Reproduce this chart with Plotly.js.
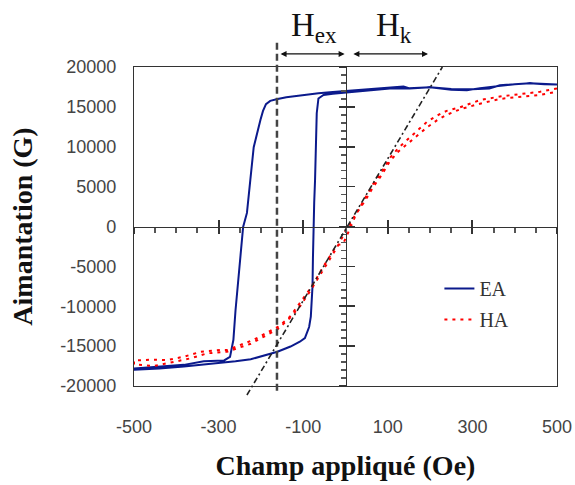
<!DOCTYPE html>
<html>
<head>
<meta charset="utf-8">
<script src="https://cdn.plot.ly/plotly-3.0.1.min.js"></script>
<style>html,body{margin:0;padding:0;background:#fff;}#chart{width:575px;height:485px;}</style>
</head>
<body>
<div id="chart"></div>
<script>
// ---- data ----
// Easy axis (EA) loop, descending field branch
const eaDescX = [500, 470, 436, 400, 365, 318, 287, 250, 200, 152, 137, 105, 60, 34, 0, -30, -64, -108, -140, -163, -178, -188, -195, -201, -207, -217, -225, -233, -242, -248, -254, -260, -265, -273, -287, -300, -335, -382, -440, -500];
const eaDescY = [17800, 17900, 17950, 17850, 17650, 17350, 17100, 17150, 17450, 17300, 17550, 17400, 17200, 17100, 16900, 16850, 16700, 16450, 16200, 15950, 15750, 15350, 14500, 13400, 12100, 9950, 5850, 1700, -50, -3400, -6700, -10500, -14200, -16350, -16800, -16850, -16900, -17350, -17600, -17800];
// Easy axis (EA) loop, ascending field branch
const eaAscX = [-500, -440, -382, -303, -260, -224, -185, -161, -130, -108, -96, -86, -82, -79, -78, -77, -76, -74, -72, -70, -68, -64, -52, -30, 0, 34, 60, 105, 150, 200, 250, 300, 340, 365, 400, 436, 470, 500];
const eaAscY = [-17950, -17800, -17550, -17150, -16900, -16650, -16100, -15700, -15050, -14450, -14000, -12600, -11300, -9200, -7500, -4000, 0, 3000, 5800, 10000, 14200, 16050, 16500, 16650, 16800, 17000, 17150, 17300, 17350, 17450, 17250, 17200, 17300, 17700, 17850, 17950, 17850, 17800];
// Hard axis (HA) curve, two branches
const haDownX = [500, 460, 413, 365, 318, 271, 239, 216, 192, 168, 145, 125, 105, 86, 66, 46, 26, 11, -5, -21, -52, -80, -108, -131, -159, -218, -279, -297, -342, -380, -421, -460, -500];
const haDownY = [17300, 16900, 16600, 16300, 15850, 14950, 14500, 13900, 13100, 11900, 10850, 9850, 8600, 6900, 5400, 3550, 1650, -200, -2100, -2400, -5000, -7550, -9630, -11300, -12560, -14230, -15480, -15500, -15700, -16300, -16740, -16700, -16800];
const haUpX = [-500, -453, -405, -366, -327, -280, -224, -161, -130, -106, -80, -52, -21, 0, 20, 46, 66, 86, 105, 125, 145, 168, 192, 216, 239, 271, 318, 365, 413, 460, 500];
const haUpY = [-17300, -17500, -16950, -16530, -15900, -15700, -14700, -12900, -11400, -9900, -7800, -5300, -2700, -600, 1200, 3200, 5000, 6500, 8200, 9400, 10300, 11300, 12400, 13300, 14000, 14700, 15400, 16000, 16300, 16500, 16900];
// Linear fit of the hard-axis slope (dash-dot line)
const fitX = [-233, 229];
const fitY = [-21130, 20000];
// Exchange field (vertical dashed line) and arrow extents (Oe)
const hEx = -162;
const hexArrow = [-157, -2];
const hkArrow = [15, 195];
// Axis ranges and ticks
const xRange = [-500, 500];
const yRange = [-20000, 20000];
const xTickVals = [-500, -300, -100, 100, 300, 500];
const xTickText = ['-500', '-300', '-100', '100', '300', '500'];
const yTickVals = [-20000, -15000, -10000, -5000, 0, 5000, 10000, 15000, 20000];
const yTickText = ['-20000', '-15000', '-10000', '-5000', '0', '5000', '10000', '15000', '20000'];

// ---- drawing ----
const eaX = eaDescX.concat(eaAscX);
const eaY = eaDescY.concat(eaAscY);
const haX = haDownX.concat(haUpX);
const haY = haDownY.concat(haUpY);
const yDom = v => (v - yRange[0]) / (yRange[1] - yRange[0]);

const blue = '#0b1a8c';
const red = '#ff0000';
const axisCol = '#333333';
const tickFont = {family: 'Liberation Sans, Arial, sans-serif', size: 18, color: '#444444'};
const titleFont = {family: 'Liberation Serif, Times New Roman, serif', size: 28, color: '#111111', weight: 'bold'};

// invisible helper traces (mode 'none') that put the zero-crossing axes in use
const helper = (xa, ya) => ({x: xRange, y: yRange, xaxis: xa, yaxis: ya, mode: 'none', type: 'scatter',
  showlegend: false, hoverinfo: 'skip'});

const traces = [
  {x: eaX, y: eaY, type: 'scatter', mode: 'lines', name: 'EA',
   line: {color: blue, width: 2}, legendgroup: 'a', hoverinfo: 'skip'},
  {x: haX, y: haY, type: 'scatter', mode: 'lines', name: 'HA',
   line: {color: red, width: 2, dash: '3px,5px'}, legendgroup: 'b', hoverinfo: 'skip'},
  helper('x2', 'y'), helper('x3', 'y'), helper('x', 'y2'), helper('x', 'y3')
];

const zeroAxis = {showgrid: false, zeroline: false, showticklabels: false, anchor: 'free', position: 0.5,
  showline: true, linecolor: axisCol, linewidth: 1.2, tickcolor: axisCol, tickwidth: 1.6};
const minorTicks = (len, d, w) => ({ticks: 'outside', ticklen: len, dtick: d, tickcolor: '#555555', tickwidth: w, showgrid: false});

const layout = {
  width: 575, height: 485,
  margin: {l: 134, r: 18, t: 67, b: 99},
  paper_bgcolor: '#ffffff', plot_bgcolor: '#ffffff',
  showlegend: true,
  legend: {x: 0.722, y: 0.367, xanchor: 'left', yanchor: 'top', bgcolor: 'rgba(0,0,0,0)',
    font: {family: 'Liberation Serif, Times New Roman, serif', size: 20, color: '#333333'},
    tracegroupgap: 2, itemwidth: 30},
  xaxis: {range: xRange, showgrid: false, zeroline: false, showline: true, mirror: true,
    linecolor: axisCol, linewidth: 1.2, ticks: '', tickvals: xTickVals, ticktext: xTickText,
    tickfont: tickFont, ticklabelstandoff: 24,
    title: {text: 'Champ appliqué (Oe)', font: titleFont, standoff: 19}},
  yaxis: {range: yRange, showgrid: false, zeroline: false, showline: true, mirror: true,
    linecolor: axisCol, linewidth: 1.2, ticks: '', tickvals: yTickVals, ticktext: yTickText,
    tickfont: tickFont, ticklabelstandoff: 13,
    title: {text: 'Aimantation (G)', font: titleFont, standoff: 19}},
  // horizontal axis through y = 0 (major ticks cross the line, minor ticks below)
  xaxis2: Object.assign({}, zeroAxis, {overlaying: 'x', range: xRange, side: 'bottom',
    ticks: 'outside', ticklen: 6, tickwidth: 2, tickmode: 'linear', tick0: -500, dtick: 200,
    minor: Object.assign(minorTicks(5, 50, 2), {tick0: -500})}),
  xaxis3: Object.assign({}, zeroAxis, {overlaying: 'x', range: xRange, side: 'bottom',
    ticks: 'inside', ticklen: 7, tickwidth: 2, tickmode: 'linear', tick0: -500, dtick: 200}),
  // vertical axis through x = 0 (major ticks cross the line, minor ticks to the left)
  yaxis2: Object.assign({}, zeroAxis, {overlaying: 'y', range: yRange, side: 'left',
    ticks: 'outside', ticklen: 7, tickmode: 'linear', tick0: 0, dtick: 5000,
    minor: Object.assign(minorTicks(5, 1000, 1.6), {tick0: 0})}),
  yaxis3: Object.assign({}, zeroAxis, {overlaying: 'y', range: yRange, side: 'left',
    ticks: 'inside', ticklen: 8, tickmode: 'linear', tick0: 0, dtick: 5000}),
  shapes: [
    {type: 'line', xref: 'x', yref: 'paper', x0: hEx, x1: hEx, y0: -0.015, y1: 1.085,
     line: {color: '#444444', width: 2.5, dash: '7px,4px'}, layer: 'above'},
    {type: 'line', xref: 'x', yref: 'y domain', x0: fitX[0], x1: fitX[1], y0: yDom(fitY[0]), y1: yDom(fitY[1]),
     line: {color: '#222222', width: 1.6, dash: '6px,3px,2px,3px'}, layer: 'above'}
  ],
  annotations: [
    {xref: 'x', yref: 'paper', x: hexArrow[1], y: 1.041, axref: 'x', ayref: 'pixel', ax: hexArrow[0], ay: 0,
     showarrow: true, arrowhead: 2, startarrowhead: 2, arrowside: 'end+start', arrowsize: 1, arrowwidth: 1.2,
     arrowcolor: '#111111', text: ''},
    {xref: 'x', yref: 'paper', x: hkArrow[1], y: 1.041, axref: 'x', ayref: 'pixel', ax: hkArrow[0], ay: 0,
     showarrow: true, arrowhead: 2, startarrowhead: 2, arrowside: 'end+start', arrowsize: 1, arrowwidth: 1.2,
     arrowcolor: '#111111', text: ''},
    {xref: 'x', yref: 'paper', x: (hexArrow[0] + hexArrow[1]) / 2 + 6, y: 1.125, yanchor: 'middle', xanchor: 'center',
     showarrow: false, text: 'H<sub>ex</sub>',
     font: {family: 'Liberation Serif, Times New Roman, serif', size: 33, color: '#111111'}},
    {xref: 'x', yref: 'paper', x: (hkArrow[0] + hkArrow[1]) / 2 + 10, y: 1.125, yanchor: 'middle', xanchor: 'center',
     showarrow: false, text: 'H<sub>k</sub>',
     font: {family: 'Liberation Serif, Times New Roman, serif', size: 33, color: '#111111'}}
  ]
};

Plotly.newPlot('chart', traces, layout, {displayModeBar: false, staticPlot: true});
</script>
</body>
</html>
